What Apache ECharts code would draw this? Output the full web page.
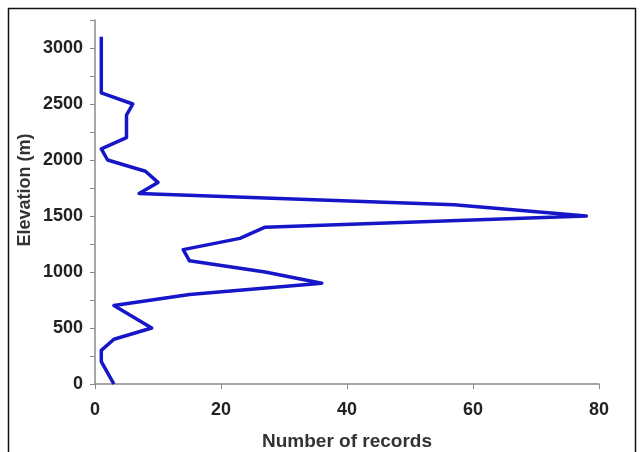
<!DOCTYPE html>
<html><head><meta charset="utf-8">
<script src="https://cdn.jsdelivr.net/npm/echarts@6/dist/echarts.min.js"></script>
<style>html,body{margin:0;padding:0;background:#fff}#c{width:644px;height:452px}</style>
</head><body><div id="c"></div>
<script>
const elevations = [0,100,200,300,400,500,600,700,800,900,1000,1100,1200,1300,1400,1500,1600,1700,1800,1900,2000,2100,2200,2300,2400,2500,2600,2700,2800,2900,3000,3100];
const records = [3,2,1,1,3,9,6,3,15,36,27,15,14,23,27,78,57,7,10,8,2,1,5,5,5,6,1,1,1,1,1,1];
const xTicks = [0,20,40,60,80];
const yLabelStep = 500;
const xTitle = 'Number of records';
const yTitle = 'Elevation (m)';

const chart = echarts.init(document.getElementById('c'));
const font = 'Liberation Sans, Arial, sans-serif';
chart.setOption({
  animation:false,
  backgroundColor:'#fff',
  graphic:[
    {type:'rect',shape:{x:8.5,y:8.5,width:627,height:470},style:{fill:'none',stroke:'#111',lineWidth:1.5}},
    {type:'text',x:25,y:190,rotation:Math.PI/2,
      style:{text:yTitle,font:'bold 18px Liberation Sans, Arial, sans-serif',fill:'#333',align:'center',verticalAlign:'middle'}}
  ],
  grid:{left:95,right:45,top:20,bottom:68,containLabel:false,outerBoundsMode:'none'},
  xAxis:{type:'value',min:xTicks[0],max:xTicks[xTicks.length-1],interval:20,
    name:xTitle,nameLocation:'middle',nameGap:48,
    nameTextStyle:{fontFamily:font,fontWeight:'bold',fontSize:19,color:'#333'},
    axisLine:{show:true,lineStyle:{color:'#888',width:1.5}},
    axisTick:{show:true,length:5,lineStyle:{color:'#888'}},
    axisLabel:{fontFamily:font,fontWeight:'bold',fontSize:18,color:'#222',margin:17},
    splitLine:{show:false}},
  yAxis:{type:'value',min:0,max:3250,interval:250,
    axisLine:{show:true,lineStyle:{color:'#888',width:1.5}},
    axisTick:{show:true,length:5,lineStyle:{color:'#888'}},
    axisLabel:{fontFamily:font,fontWeight:'bold',fontSize:18,color:'#222',margin:12,
      formatter:v=> (v % yLabelStep === 0 ? String(v) : '')},
    splitLine:{show:false}},
  series:[{type:'line',data:elevations.map((e,i)=>[records[i],e]),
    showSymbol:false,symbol:'none',
    lineStyle:{color:'#1616c8',width:3.5,join:'round'}}]
});
</script></body></html>
